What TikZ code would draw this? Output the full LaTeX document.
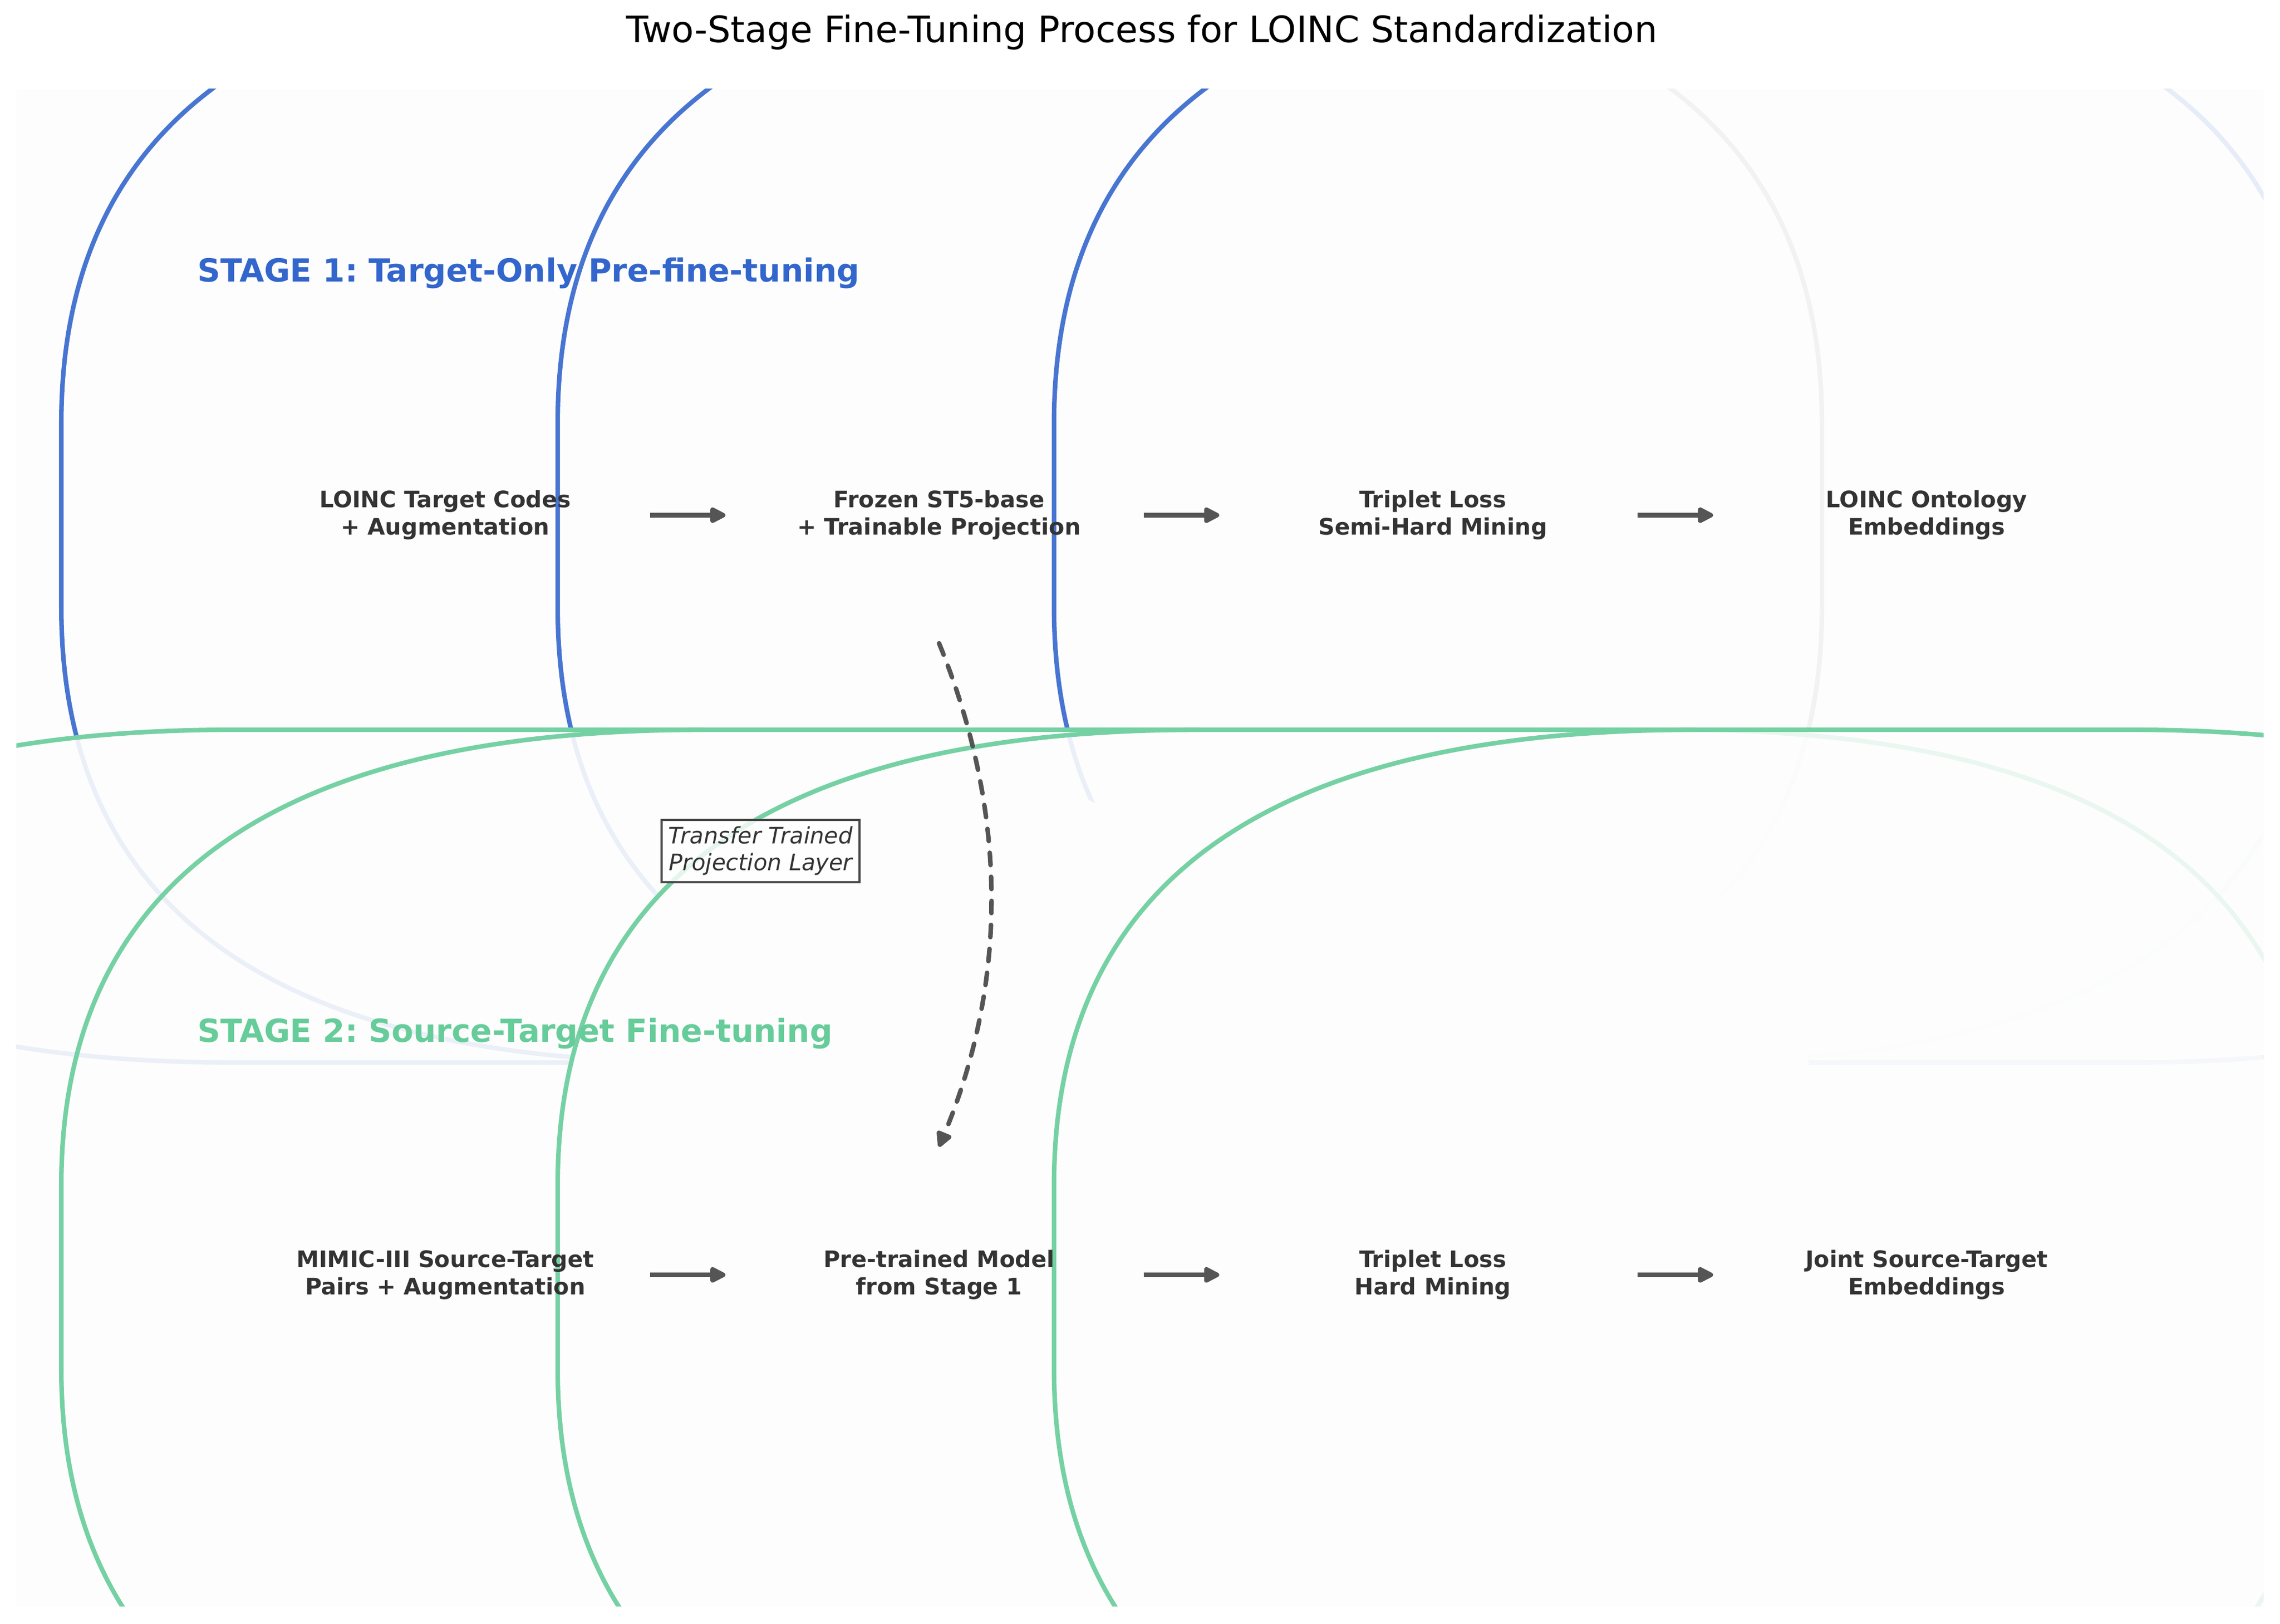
\documentclass[tikz,border=0pt]{standalone}
\usepackage{fontspec}
\setmainfont{DejaVu Sans}
\usetikzlibrary{positioning,arrows.meta}
\frenchspacing

\definecolor{panelbg}{HTML}{FDFDFD}
\definecolor{stageone}{HTML}{3366CC}
\definecolor{stagetwo}{HTML}{66CC99}
\definecolor{oneedge}{HTML}{4775D1}
\definecolor{twoedge}{HTML}{75D1A3}
\definecolor{onefaint}{HTML}{E6ECF8}
\definecolor{twofaint}{HTML}{EAF7F0}
\definecolor{greyfaint}{HTML}{F2F2F2}
\definecolor{labeltext}{HTML}{333333}
\definecolor{arrowgray}{HTML}{555555}

% left half of an over-rounded box: #1 style, #2 x0, #3 top, #4 bottom
\newcommand\lefthalf[4]{%
  \draw[#1] ({#2+440},{#4})
    .. controls ({#2+146.7},{#4}) and ({#2},{#4-104}) .. ({#2},{#4-312})
    -- ({#2},{#3+312})
    .. controls ({#2},{#3+104}) and ({#2+146.7},{#3}) .. ({#2+440},{#3});}
% right half: #1 style, #2 x1, #3 top, #4 bottom
\newcommand\righthalf[4]{%
  \draw[#1] ({#2-440},{#4})
    .. controls ({#2-146.7},{#4}) and ({#2},{#4-104}) .. ({#2},{#4-312})
    -- ({#2},{#3+312})
    .. controls ({#2},{#3+104}) and ({#2-146.7},{#3}) .. ({#2-440},{#3});}
% whole rounded outline: #1 style, #2 x0, #3 x1, #4 top, #5 bottom
\newcommand\roundpath[5]{%
  \path[#1] ({#2+440},{#4}) -- ({#3-440},{#4})
    .. controls ({#3-146.7},{#4}) and ({#3},{#4+104}) .. ({#3},{#4+312})
    -- ({#3},{#5-312})
    .. controls ({#3},{#5-104}) and ({#3-146.7},{#5}) .. ({#3-440},{#5})
    -- ({#2+440},{#5})
    .. controls ({#2+146.7},{#5}) and ({#2},{#5-104}) .. ({#2},{#5-312})
    -- ({#2},{#4+312})
    .. controls ({#2},{#4+104}) and ({#2+146.7},{#4}) .. ({#2+440},{#4})
    -- cycle;}

\tikzset{
  proc/.style={rectangle, minimum width=6.465cm, minimum height=3.956cm, align=center,
    text=labeltext, font=\fontsize{10}{12}\selectfont\bfseries},
  stagettl/.style={anchor=west, inner sep=0pt, font=\fontsize{14}{17}\selectfont\bfseries},
  panelone/.style={draw=oneedge, line width=2pt},
  paneltwo/.style={draw=twoedge, line width=2pt},
  cover/.style={fill=panelbg},
  edgeone/.style={draw=oneedge, line width=2pt},
  edgetwo/.style={draw=twoedge, line width=2pt},
  flow/.style={-{Triangle[length=8pt,width=7.5pt,round]}, draw=arrowgray, line width=2pt},
  xfer/.style={flow, line cap=round, dash pattern=on 5.4pt off 5.2pt},
  xferlbl/.style={draw=labeltext!90!white, line width=1pt, fill=white, fill opacity=0.8,
    text opacity=1, text=labeltext, inner sep=2.9pt, align=center,
    font=\fontsize{10}{12}\selectfont\itshape}
}

\begin{document}
\begin{tikzpicture}[x=0.022606cm, y=-0.022606cm]
  \useasboundingbox (0,0) rectangle (1561.8,1112.4);

  \fill[panelbg] (11.2,61) rectangle (1550.6,1100.7);
  \begin{scope}
    \clip (11.2,61) rectangle (1550.6,1100.7);
    % stage 1
    \roundpath{panelone}{-280}{1900}{-22}{728}
    \foreach \xo in {42,382,722}{
      \lefthalf{edgeone}{\xo}{-22}{728}
    }
    \righthalf{draw=greyfaint, line width=2pt}{1248}{-22}{728}
    \righthalf{draw=onefaint, line width=2pt}{1588}{-22}{728}
    % stage 2
    \roundpath{cover, fill opacity=0.9}{-280}{1900}{500}{1250}
    \lefthalf{edgetwo}{42}{500}{1250}
    \foreach \xo in {382,722}{
      \roundpath{cover}{\xo}{\xo+526}{500}{1250}
      \lefthalf{edgetwo}{\xo}{500}{1250}
    }
    \roundpath{cover, fill opacity=0.6}{1062}{1588}{500}{1250}
    \righthalf{draw=twofaint, line width=2pt}{1588}{500}{1250}
    \roundpath{paneltwo}{-280}{1900}{500}{1250}
  \end{scope}

  \node [font=\fontsize{16}{19}\selectfont] (ttl) at (782,22) {Two-Stage Fine-Tuning Process for LOINC Standardization};
  \node [stagettl, text=stageone] (ttl1) at (135,187) {STAGE 1: Target-Only Pre-fine-tuning};
  \node [stagettl, text=stagetwo] (ttl2) at (135,708) {STAGE 2: Source-Target Fine-tuning};

  \node [proc] (s1a) at (305,353) {LOINC Target Codes\\+ Augmentation};
  \node [proc, right=1.17cm of s1a] (s1b) {Frozen ST5-base\\+ Trainable Projection};
  \node [proc, right=1.17cm of s1b] (s1c) {Triplet Loss\\Semi-Hard Mining};
  \node [proc, right=1.17cm of s1c] (s1d) {LOINC Ontology\\Embeddings};

  \node [proc, below=7.80cm of s1a] (s2a) {MIMIC-III Source-Target\\Pairs + Augmentation};
  \node [proc, right=1.17cm of s2a] (s2b) {Pre-trained Model\\from Stage 1};
  \node [proc, right=1.17cm of s2b] (s2c) {Triplet Loss\\Hard Mining};
  \node [proc, right=1.17cm of s2c] (s2d) {Joint Source-Target\\Embeddings};

  \draw[flow] ([xshift=-2pt]s1a.east) -- ([xshift=-2pt]s1b.west);
  \draw[flow] ([xshift=-2pt]s1b.east) -- ([xshift=-2pt]s1c.west);
  \draw[flow] ([xshift=-2pt]s1c.east) -- ([xshift=-2pt]s1d.west);
  \draw[flow] ([xshift=-2pt]s2a.east) -- ([xshift=-2pt]s2b.west);
  \draw[flow] ([xshift=-2pt]s2b.east) -- ([xshift=-2pt]s2c.west);
  \draw[flow] ([xshift=-2pt]s2c.east) -- ([xshift=-2pt]s2d.west);

  \draw[xfer] (s1b.south) .. controls (690,555) and (691,671) .. (s2b.north);
  \node [xferlbl] (xl) at (521,583) {Transfer Trained\\Projection Layer};
\end{tikzpicture}
\end{document}
